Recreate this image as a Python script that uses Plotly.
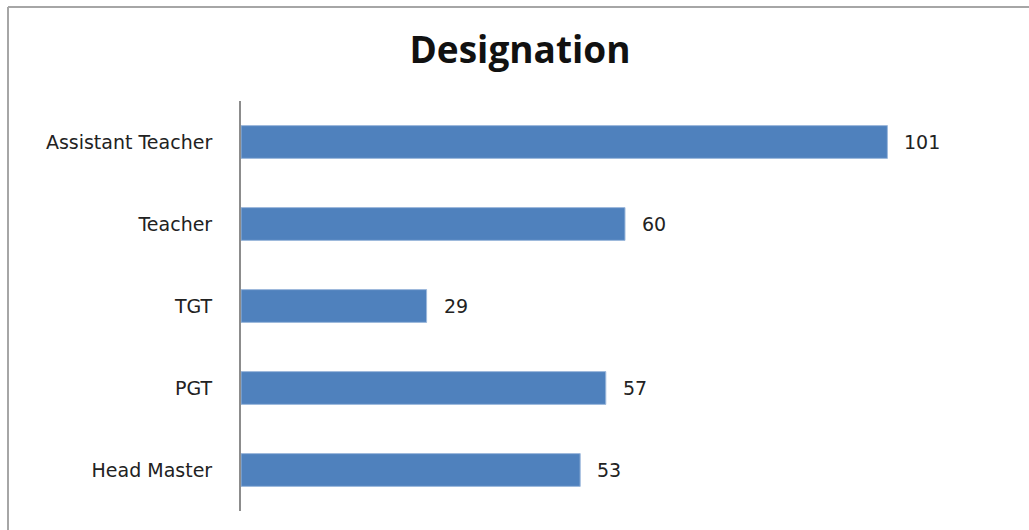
import plotly.graph_objects as go

# Respondents by designation
categories = ["Assistant Teacher", "Teacher", "TGT", "PGT", "Head Master"]
counts = [101, 60, 29, 57, 53]

W, H = 1029, 530
ML, MR, MT, MB = 241, 20, 101, 19
plot_w = W - ML - MR
plot_h = H - MT - MB

fig = go.Figure(
    go.Bar(
        x=counts,
        y=categories,
        orientation="h",
        width=0.4,
        marker=dict(color="#4F81BD", line=dict(color="#9DB9DC", width=1)),
        hoverinfo="x+y",
    )
)

# value labels to the right of each bar
for cat, val in zip(categories, counts):
    fig.add_annotation(
        x=val, y=cat, text=str(val), showarrow=False,
        xanchor="left", xshift=15, yshift=0,
        font=dict(family="DejaVu Sans", size=19, color="#222222"),
    )

# chart frame (left and top edges)
def px_to_paper_x(px):
    return (px - ML) / plot_w

def px_to_paper_y(py):
    return (H - MB - py) / plot_h

fx = px_to_paper_x(8)
fy = px_to_paper_y(7)
fig.add_shape(type="line", xref="paper", yref="paper",
              x0=fx, x1=fx, y0=px_to_paper_y(H + 5), y1=fy,
              line=dict(color="#A6A6A6", width=2))
fig.add_shape(type="line", xref="paper", yref="paper",
              x0=fx, x1=px_to_paper_x(W + 5), y0=fy, y1=fy,
              line=dict(color="#A6A6A6", width=2))

fig.update_layout(
    width=W, height=H,
    margin=dict(l=ML, r=MR, t=MT, b=MB),
    paper_bgcolor="white", plot_bgcolor="white",
    showlegend=False,
    title=dict(
        text="<b>Designation</b>",
        x=(403 + 637) / 2 / W, xanchor="center",
        y=1 - 50 / H, yanchor="middle", yref="container",
        font=dict(family="Open Sans", size=37, color="#111111"),
    ),
    xaxis=dict(range=[0, 120], showgrid=False, zeroline=False,
               showticklabels=False, ticks="", showline=False),
    yaxis=dict(
        categoryorder="array", categoryarray=categories[::-1],
        range=[-0.5, 4.5],
        showgrid=False, zeroline=False,
        showline=True, linecolor="#8C8C8C", linewidth=2,
        ticks="", ticklabelstandoff=23,
        tickfont=dict(family="DejaVu Sans", size=19, color="#222222"),
    ),
)

fig.write_html("out.html")
